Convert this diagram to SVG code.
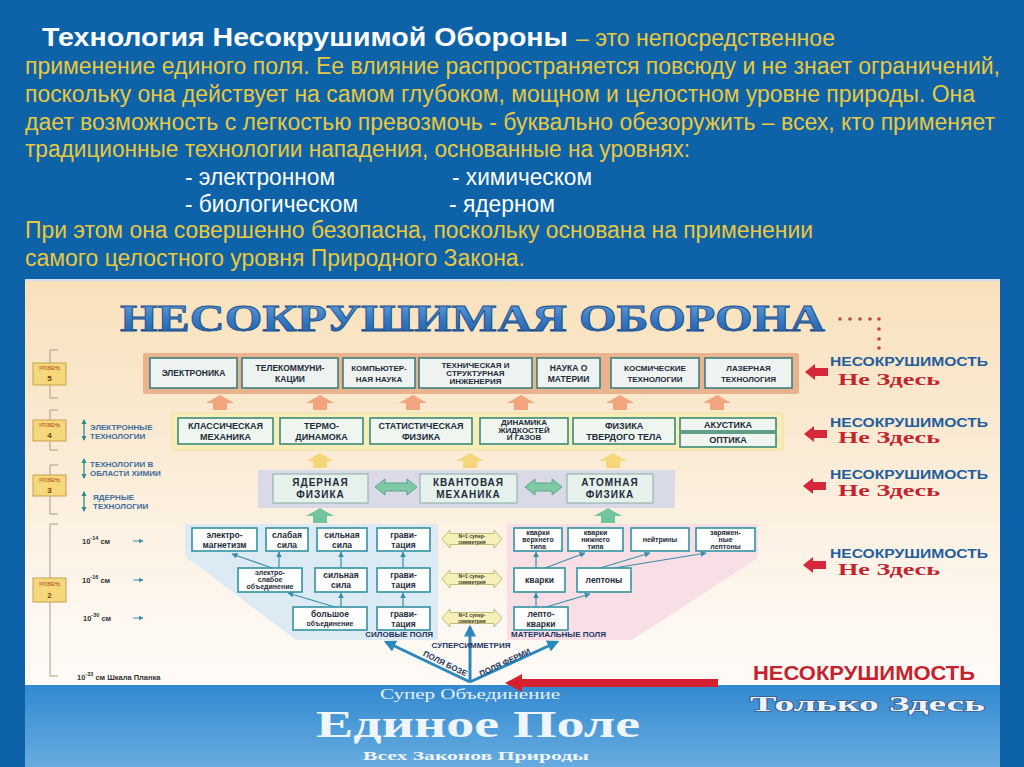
<svg xmlns="http://www.w3.org/2000/svg" width="1024" height="767" viewBox="0 0 1024 767">
<defs>
  <linearGradient id="cream" x1="0" y1="0" x2="0" y2="1">
    <stop offset="0" stop-color="#f8e1bc"/>
    <stop offset="0.45" stop-color="#fbecd7"/>
    <stop offset="0.85" stop-color="#fef8f2"/>
    <stop offset="1" stop-color="#fffaf6"/>
  </linearGradient>
  <linearGradient id="banner" x1="0" y1="0" x2="0" y2="1">
    <stop offset="0" stop-color="#3389cf"/>
    <stop offset="1" stop-color="#66ace0"/>
  </linearGradient>
  <linearGradient id="titleGrad" x1="0" y1="0" x2="0" y2="1">
    <stop offset="0" stop-color="#6aa8e0"/>
    <stop offset="0.5" stop-color="#3a7cc4"/>
    <stop offset="1" stop-color="#1c5aa4"/>
  </linearGradient>
  <path id="upArrow" d="M0,0 L14,8 L7,8 L7,15 L-7,15 L-7,8 L-14,8 Z"/>
  <path id="redArrow" d="M0,0 L10,-8 L10,-4 L23,-4 L23,4 L10,4 L10,8 Z"/>
  <path id="n1Arrow" d="M0,0 L8,-9 L8,-5.5 L52,-5.5 L52,-9 L60,0 L52,9 L52,5.5 L8,5.5 L8,9 Z"/>
  <marker id="tealHead" viewBox="0 0 10 10" refX="9" refY="5" markerWidth="5" markerHeight="5" orient="auto-start-reverse">
    <path d="M0,0 L10,5 L0,10 Z" fill="#3a8ea8"/>
  </marker>
  <marker id="fanHead" viewBox="0 0 10 10" refX="8" refY="5" markerWidth="4" markerHeight="4" orient="auto">
    <path d="M0,0 L10,5 L0,10 Z" fill="#2a88bd"/>
  </marker>
  <marker id="axisHead" viewBox="0 0 10 10" refX="8" refY="5" markerWidth="4" markerHeight="4" orient="auto-start-reverse">
    <path d="M0,0 L10,5 L0,10 Z" fill="#2f8c8c"/>
  </marker>
</defs>
<style>
  .yel{font-family:"Liberation Sans",Arial,sans-serif;font-size:23px;fill:#e9c83e}
  .wht{font-family:"Liberation Sans",Arial,sans-serif;font-size:23px;fill:#ffffff}
  .ttl{font-family:"Liberation Sans",Arial,sans-serif;font-size:26px;font-weight:bold;fill:#ffffff}
  .cont5{fill:#eab38f}
  .cont4{fill:#f6edb9;stroke:#efe0a0;stroke-width:1}
  .cont3{fill:#d9d9e7}
  .b5{fill:#eef3f1;stroke:#3c7f7d;stroke-width:1.6}
  .b4{fill:#eff6f0;stroke:#3d8a78;stroke-width:1.6}
  .b3{fill:#e6f1ec;stroke:#86aea6;stroke-width:1}
  .b2{fill:#ffffff;stroke:#3393a3;stroke-width:1.6}
  .t{font-family:"Liberation Sans",Arial,sans-serif;font-weight:bold;fill:#1e2c3a;text-anchor:middle}
  .t5{font-size:8.5px}
  .t5s{font-size:8px}
  .t4{font-size:9px}
  .t3{font-size:10px;letter-spacing:1px}
  .t2{font-size:8.5px}
  .t2s{font-size:7px}
  .n1t{font-family:"Liberation Sans",Arial,sans-serif;font-weight:bold;font-size:5px;fill:#3a3a2a;text-anchor:middle}
  .nes{font-family:"Liberation Sans",Arial,sans-serif;font-weight:bold;font-size:13px;fill:#1f5d9c}
  .nz{font-family:"Liberation Serif","Times New Roman",serif;font-weight:bold;font-size:16px;fill:#c2252f}
  .ax{font-family:"Liberation Sans",Arial,sans-serif;font-weight:bold;font-size:8px;fill:#3e6c9c}
  .sc{font-family:"Liberation Sans",Arial,sans-serif;font-weight:bold;font-size:7.5px;fill:#333333}
  .lvl{fill:#f6d87c;stroke:#c8a050;stroke-width:1}
  .lvlw{font-family:"Liberation Sans",Arial,sans-serif;font-size:4.5px;fill:#b0401c;text-anchor:middle}
  .lvln{font-family:"Liberation Sans",Arial,sans-serif;font-weight:bold;font-size:8px;fill:#7a3a10;text-anchor:middle}
  .con{stroke:#3a8ea8;stroke-width:1.2;fill:none}
  .fan{stroke:#2a88bd;stroke-width:3;fill:none}
  .fl{font-family:"Liberation Sans",Arial,sans-serif;font-weight:bold;font-size:8px;fill:#1d3560}
  .brk{stroke:#a89a88;stroke-width:1;fill:none}
</style>

<!-- background -->
<rect x="0" y="0" width="1024" height="767" fill="#0d62a8"/>
<rect x="25" y="279" width="975" height="2" fill="#cfe0ee"/>
<rect x="25" y="281" width="975" height="404" fill="url(#cream)"/>
<rect x="25" y="685" width="975" height="82" fill="url(#banner)"/>

<!-- top text -->
<g id="intro">
  <text x="42" y="46" class="ttl" textLength="526" lengthAdjust="spacingAndGlyphs">Технология Несокрушимой Обороны</text>
  <text x="576" y="46" class="yel" textLength="259" lengthAdjust="spacingAndGlyphs">– это непосредственное</text>
  <text x="25" y="74" class="yel" textLength="975" lengthAdjust="spacingAndGlyphs">применение единого поля. Ее влияние распространяется повсюду и не знает ограничений,</text>
  <text x="25" y="102" class="yel" textLength="950" lengthAdjust="spacingAndGlyphs">поскольку она действует на самом глубоком, мощном и целостном уровне природы. Она</text>
  <text x="25" y="130" class="yel" textLength="970" lengthAdjust="spacingAndGlyphs">дает возможность с легкостью превозмочь - буквально обезоружить – всех, кто применяет</text>
  <text x="25" y="157" class="yel" textLength="665" lengthAdjust="spacingAndGlyphs">традиционные технологии нападения, основанные на уровнях:</text>
  <text x="185" y="185" class="wht" textLength="150" lengthAdjust="spacingAndGlyphs">- электронном</text>
  <text x="452" y="185" class="wht" textLength="140" lengthAdjust="spacingAndGlyphs">- химическом</text>
  <text x="185" y="212" class="wht" textLength="173" lengthAdjust="spacingAndGlyphs">- биологическом</text>
  <text x="449" y="212" class="wht" textLength="106" lengthAdjust="spacingAndGlyphs">- ядерном</text>
  <text x="25" y="238" class="yel" textLength="788" lengthAdjust="spacingAndGlyphs">При этом она совершенно безопасна, поскольку основана на применении</text>
  <text x="25" y="266" class="yel" textLength="500" lengthAdjust="spacingAndGlyphs">самого целостного уровня Природного Закона.</text>
</g>

<!-- big title -->
<g id="title">
  <text x="120" y="331" font-family="'Liberation Serif','Times New Roman',serif" font-weight="bold" font-size="38" fill="url(#titleGrad)" stroke="#1a4d8a" stroke-width="0.8" textLength="705" lengthAdjust="spacingAndGlyphs">НЕСОКРУШИМАЯ ОБОРОНА</text>
  <g fill="#c0443e">
    <circle cx="840" cy="319" r="1.8"/><circle cx="850" cy="319" r="1.8"/><circle cx="860" cy="319" r="1.8"/><circle cx="870" cy="319" r="1.8"/><circle cx="879" cy="319" r="1.8"/>
    <circle cx="879" cy="329" r="1.8"/><circle cx="879" cy="339" r="1.8"/><circle cx="879" cy="348" r="1.8"/>
  </g>
</g>

<!-- left axis -->
<g id="axis">
  <path class="brk" d="M58,350 H50 V398 H58"/>
  <path class="brk" d="M58,410 H50 V450 H58"/>
  <path class="brk" d="M58,465 H50 V514 H58"/>
  <path class="brk" d="M58,524 H50 V676 H58"/>
  <g id="lvl5"><rect class="lvl" x="33" y="363" width="33" height="22"/><text class="lvlw" x="49.5" y="370">УРОВЕНЬ</text><text class="lvln" x="49.5" y="381">5</text></g>
  <g id="lvl4"><rect class="lvl" x="33" y="420" width="33" height="21"/><text class="lvlw" x="49.5" y="427">УРОВЕНЬ</text><text class="lvln" x="49.5" y="438">4</text></g>
  <g id="lvl3"><rect class="lvl" x="33" y="475" width="33" height="21"/><text class="lvlw" x="49.5" y="482">УРОВЕНЬ</text><text class="lvln" x="49.5" y="493">3</text></g>
  <g id="lvl2"><rect class="lvl" x="33" y="578" width="33" height="24"/><text class="lvlw" x="49.5" y="586">УРОВЕНЬ</text><text class="lvln" x="49.5" y="598">2</text></g>
  <line x1="84" y1="420" x2="84" y2="440" stroke="#2f8c8c" stroke-width="1.3" marker-start="url(#axisHead)" marker-end="url(#axisHead)"/>
  <text class="ax" x="90" y="430">ЭЛЕКТРОННЫЕ</text><text class="ax" x="90" y="439">ТЕХНОЛОГИИ</text>
  <line x1="84" y1="459" x2="84" y2="478" stroke="#2f8c8c" stroke-width="1.3" marker-start="url(#axisHead)" marker-end="url(#axisHead)"/>
  <text class="ax" x="90" y="467">ТЕХНОЛОГИИ В</text><text class="ax" x="90" y="476">ОБЛАСТИ ХИМИИ</text>
  <line x1="84" y1="492" x2="84" y2="511" stroke="#2f8c8c" stroke-width="1.3" marker-start="url(#axisHead)" marker-end="url(#axisHead)"/>
  <text class="ax" x="93" y="500">ЯДЕРНЫЕ</text><text class="ax" x="93" y="509">ТЕХНОЛОГИИ</text>
  <text class="sc" x="82" y="544">10<tspan font-size="5.5" dy="-4">-14</tspan><tspan dy="4"> см</tspan></text>
  <text class="sc" x="82" y="583">10<tspan font-size="5.5" dy="-4">-16</tspan><tspan dy="4"> см</tspan></text>
  <text class="sc" x="83" y="621">10<tspan font-size="5.5" dy="-4">-30</tspan><tspan dy="4"> см</tspan></text>
  <text class="sc" x="77" y="680">10<tspan font-size="5.5" dy="-4">-33</tspan><tspan dy="4"> см Шкала Планка</tspan></text>
  <line x1="133" y1="541" x2="143" y2="541" stroke="#3a8ea8" stroke-width="1" marker-end="url(#tealHead)"/>
  <line x1="133" y1="580" x2="143" y2="580" stroke="#3a8ea8" stroke-width="1" marker-end="url(#tealHead)"/>
  <line x1="133" y1="618" x2="143" y2="618" stroke="#3a8ea8" stroke-width="1" marker-end="url(#tealHead)"/>
</g>

<!-- level 5 -->
<rect class="cont5" x="143" y="353" width="656" height="41" rx="2"/>
<g id="n-electronics"><rect class="b5" x="150" y="358" width="87" height="30"/><text class="t t5" x="193.5" y="376">ЭЛЕКТРОНИКА</text></g>
<g id="n-telecom"><rect class="b5" x="242" y="358" width="96" height="30"/><text class="t t5" x="290" y="371">ТЕЛЕКОММУНИ-</text><text class="t t5" x="290" y="382">КАЦИИ</text></g>
<g id="n-computer"><rect class="b5" x="343" y="358" width="72" height="30"/><text class="t t5s" x="379" y="371">КОМПЬЮТЕР-</text><text class="t t5s" x="379" y="382">НАЯ НАУКА</text></g>
<g id="n-engineering"><rect class="b5" x="419" y="358" width="113" height="30"/><text class="t t5s" x="475.5" y="368">ТЕХНИЧЕСКАЯ И</text><text class="t t5s" x="475.5" y="376">СТРУКТУРНАЯ</text><text class="t t5s" x="475.5" y="384">ИНЖЕНЕРИЯ</text></g>
<g id="n-matter"><rect class="b5" x="537" y="358" width="63" height="30"/><text class="t t5" x="568.5" y="371">НАУКА О</text><text class="t t5" x="568.5" y="382">МАТЕРИИ</text></g>
<g id="n-space"><rect class="b5" x="611" y="358" width="88" height="30"/><text class="t t5s" x="655" y="371">КОСМИЧЕСКИЕ</text><text class="t t5s" x="655" y="382">ТЕХНОЛОГИИ</text></g>
<g id="n-laser"><rect class="b5" x="705" y="358" width="87" height="30"/><text class="t t5s" x="748.5" y="371">ЛАЗЕРНАЯ</text><text class="t t5s" x="748.5" y="382">ТЕХНОЛОГИЯ</text></g>

<!-- level 4 -->
<rect class="cont4" x="172" y="413" width="611" height="37" rx="2"/>
<g id="n-classmech"><rect class="b4" x="178" y="418" width="95" height="26"/><text class="t t4" x="225.5" y="429">КЛАССИЧЕСКАЯ</text><text class="t t4" x="225.5" y="440">МЕХАНИКА</text></g>
<g id="n-thermo"><rect class="b4" x="280" y="418" width="83" height="26"/><text class="t t4" x="321.5" y="429">ТЕРМО-</text><text class="t t4" x="321.5" y="440">ДИНАМОКА</text></g>
<g id="n-stat"><rect class="b4" x="370" y="418" width="102" height="26"/><text class="t t4" x="421" y="429">СТАТИСТИЧЕСКАЯ</text><text class="t t4" x="421" y="440">ФИЗИКА</text></g>
<g id="n-fluid"><rect class="b4" x="480" y="418" width="88" height="26"/><text class="t t5s" x="524" y="425">ДИНАМИКА</text><text class="t t5s" x="524" y="432.5">ЖИДКОСТЕЙ</text><text class="t t5s" x="524" y="440">И ГАЗОВ</text></g>
<g id="n-solid"><rect class="b4" x="573" y="418" width="102" height="26"/><text class="t t4" x="624" y="429">ФИЗИКА</text><text class="t t4" x="624" y="440">ТВЕРДОГО ТЕЛА</text></g>
<g id="n-acoustics"><rect class="b4" x="680" y="418" width="96" height="13"/><text class="t t4" x="728" y="428">АКУСТИКА</text></g>
<g id="n-optics"><rect class="b4" x="680" y="433" width="96" height="14"/><text class="t t4" x="728" y="443">ОПТИКА</text></g>

<!-- level 3 -->
<rect class="cont3" x="258" y="470" width="417" height="38"/>
<g id="n-nuclear"><rect class="b3" x="273" y="474" width="95" height="29"/><text class="t t3" x="320.5" y="486">ЯДЕРНАЯ</text><text class="t t3" x="320.5" y="498">ФИЗИКА</text></g>
<g id="n-quantum"><rect class="b3" x="420" y="474" width="97" height="29"/><text class="t t3" x="468.5" y="486">КВАНТОВАЯ</text><text class="t t3" x="468.5" y="498">МЕХАНИКА</text></g>
<g id="n-atomic"><rect class="b3" x="567" y="474" width="86" height="29"/><text class="t t3" x="610" y="486">АТОМНАЯ</text><text class="t t3" x="610" y="498">ФИЗИКА</text></g>

<!-- level 2 zones -->
<polygon points="185,524 438,524 438,640 296,640 185,556" fill="#dcebf3"/>
<polygon points="507,524 758,524 758,558 632,640 507,640" fill="#f8dfe6"/>

<g id="n-em"><rect class="b2" x="192" y="528" width="65" height="23"/><text class="t t2" x="224.5" y="538">электро-</text><text class="t t2" x="224.5" y="547.5">магнетизм</text></g>
<g id="n-weak"><rect class="b2" x="266" y="528" width="42" height="23"/><text class="t t2" x="287" y="538">слабая</text><text class="t t2" x="287" y="547.5">сила</text></g>
<g id="n-strong1"><rect class="b2" x="317" y="528" width="50" height="23"/><text class="t t2" x="342" y="538">сильная</text><text class="t t2" x="342" y="547.5">сила</text></g>
<g id="n-grav1"><rect class="b2" x="377" y="528" width="53" height="23"/><text class="t t2" x="403.5" y="538">грави-</text><text class="t t2" x="403.5" y="547.5">тация</text></g>
<g id="n-ew"><rect class="b2" x="238" y="568" width="64" height="24"/><text class="t t2s" x="270" y="575">электро-</text><text class="t t2s" x="270" y="582">слабое</text><text class="t t2s" x="270" y="589">объединение</text></g>
<g id="n-strong2"><rect class="b2" x="315" y="568" width="52" height="24"/><text class="t t2" x="341" y="578">сильная</text><text class="t t2" x="341" y="588">сила</text></g>
<g id="n-grav2"><rect class="b2" x="377" y="568" width="53" height="24"/><text class="t t2" x="403.5" y="578">грави-</text><text class="t t2" x="403.5" y="588">тация</text></g>
<g id="n-gut"><rect class="b2" x="293" y="607" width="74" height="23"/><text class="t t2" x="330" y="617">большое</text><text class="t t2s" x="330" y="626">объединение</text></g>
<g id="n-grav3"><rect class="b2" x="377" y="607" width="53" height="23"/><text class="t t2" x="403.5" y="617">грави-</text><text class="t t2" x="403.5" y="626.5">тация</text></g>
<text class="fl" x="433" y="637" text-anchor="end">СИЛОВЫЕ ПОЛЯ</text>

<g id="n-upq"><rect class="b2" x="514" y="528" width="48" height="23"/><text class="t t2s" x="538" y="535">кварки</text><text class="t t2s" x="538" y="542">верхнего</text><text class="t t2s" x="538" y="549">типа</text></g>
<g id="n-downq"><rect class="b2" x="568" y="528" width="55" height="23"/><text class="t t2s" x="595.5" y="535">кварки</text><text class="t t2s" x="595.5" y="542">нижнего</text><text class="t t2s" x="595.5" y="549">типа</text></g>
<g id="n-neutrino"><rect class="b2" x="631" y="528" width="58" height="23"/><text class="t t2s" x="660" y="542">нейтрины</text></g>
<g id="n-chlep"><rect class="b2" x="696" y="528" width="59" height="23"/><text class="t t2s" x="725.5" y="535">заряжен-</text><text class="t t2s" x="725.5" y="542">ные</text><text class="t t2s" x="725.5" y="549">лептоны</text></g>
<g id="n-quarks"><rect class="b2" x="514" y="568" width="51" height="24"/><text class="t t2" x="539.5" y="583">кварки</text></g>
<g id="n-leptons"><rect class="b2" x="577" y="568" width="54" height="24"/><text class="t t2" x="604" y="583">лептоны</text></g>
<g id="n-lq"><rect class="b2" x="514" y="607" width="54" height="23"/><text class="t t2" x="541" y="617">лепто-</text><text class="t t2" x="541" y="626.5">кварки</text></g>
<text class="fl" x="511" y="637">МАТЕРИАЛЬНЫЕ ПОЛЯ</text>

<g id="n-susy">
  <use href="#n1Arrow" x="442" y="539" fill="#f5efb8" stroke="#b5ad62" stroke-width="0.8"/>
  <text class="n1t" x="472" y="538">N=1 супер-</text><text class="n1t" x="472" y="544">симметрия</text>
  <use href="#n1Arrow" x="442" y="579" fill="#f5efb8" stroke="#b5ad62" stroke-width="0.8"/>
  <text class="n1t" x="472" y="578">N=1 супер-</text><text class="n1t" x="472" y="584">симметрия</text>
  <use href="#n1Arrow" x="442" y="618" fill="#f5efb8" stroke="#b5ad62" stroke-width="0.8"/>
  <text class="n1t" x="472" y="617">N=1 супер-</text><text class="n1t" x="472" y="623">симметрия</text>
</g>

<!-- connectors -->
<g id="connectors">
  <use href="#upArrow" x="220" y="395" fill="#f2a47c"/>
  <use href="#upArrow" x="320" y="395" fill="#f2a47c"/>
  <use href="#upArrow" x="413" y="395" fill="#f2a47c"/>
  <use href="#upArrow" x="521" y="395" fill="#f2a47c"/>
  <use href="#upArrow" x="620" y="395" fill="#f2a47c"/>
  <use href="#upArrow" x="717" y="395" fill="#f2a47c"/>
  <use href="#upArrow" x="320" y="453" fill="#f6d67a"/>
  <use href="#upArrow" x="470" y="453" fill="#f6d67a"/>
  <use href="#upArrow" x="613" y="453" fill="#f6d67a"/>
  <use href="#upArrow" x="320" y="508" fill="#72c69e"/>
  <use href="#upArrow" x="608" y="508" fill="#72c69e"/>
  <path d="M375,487 L385,479 L385,483 L407,483 L407,479 L417,487 L407,495 L407,491 L385,491 L385,495 Z" fill="#7fcaa6" stroke="#4a9a7a" stroke-width="0.8"/>
  <path d="M525,487 L535,479 L535,483 L552,483 L552,479 L562,487 L552,495 L552,491 L535,491 L535,495 Z" fill="#7fcaa6" stroke="#4a9a7a" stroke-width="0.8"/>
  <line class="con" x1="341" y1="607" x2="341" y2="593" marker-end="url(#tealHead)"/>
  <line class="con" x1="335" y1="607" x2="288" y2="593" marker-end="url(#tealHead)"/>
  <line class="con" x1="403" y1="607" x2="403" y2="593" marker-end="url(#tealHead)"/>
  <line class="con" x1="279" y1="568" x2="279" y2="552" marker-end="url(#tealHead)"/>
  <line class="con" x1="272" y1="568" x2="232" y2="554" marker-end="url(#tealHead)"/>
  <line class="con" x1="341" y1="568" x2="341" y2="552" marker-end="url(#tealHead)"/>
  <line class="con" x1="403" y1="568" x2="403" y2="552" marker-end="url(#tealHead)"/>
  <line class="con" x1="536" y1="607" x2="536" y2="593" marker-end="url(#tealHead)"/>
  <line class="con" x1="546" y1="607" x2="590" y2="594" marker-end="url(#tealHead)"/>
  <line class="con" x1="536" y1="568" x2="536" y2="552" marker-end="url(#tealHead)"/>
  <line class="con" x1="545" y1="568" x2="585" y2="553" marker-end="url(#tealHead)"/>
  <line class="con" x1="600" y1="568" x2="650" y2="553" marker-end="url(#tealHead)"/>
  <line class="con" x1="614" y1="568" x2="706" y2="553" marker-end="url(#tealHead)"/>
  <line class="fan" x1="470" y1="682" x2="386" y2="642" marker-end="url(#fanHead)"/>
  <line class="fan" x1="470" y1="682" x2="470" y2="627" marker-end="url(#fanHead)"/>
  <line class="fan" x1="470" y1="682" x2="557" y2="642" marker-end="url(#fanHead)"/>
  <text class="fl" x="471" y="648" text-anchor="middle">СУПЕРСИММЕТРИЯ</text>
  <text class="fl" font-size="7" x="0" y="0" text-anchor="middle" transform="translate(444,666) rotate(26)">ПОЛЯ БОЗЕ</text>
  <text class="fl" font-size="7" x="0" y="0" text-anchor="middle" transform="translate(506,665) rotate(-25)">ПОЛЯ ФЕРМИ</text>
</g>

<!-- right labels -->
<g id="r5"><use href="#redArrow" x="805" y="372" fill="#d6283a"/><text class="nes" x="830" y="366" textLength="158" lengthAdjust="spacingAndGlyphs">НЕСОКРУШИМОСТЬ</text><text class="nz" x="838" y="385" textLength="102" lengthAdjust="spacingAndGlyphs">Не Здесь</text></g>
<g id="r4"><use href="#redArrow" x="804" y="434" fill="#d6283a"/><text class="nes" x="830" y="427" textLength="158" lengthAdjust="spacingAndGlyphs">НЕСОКРУШИМОСТЬ</text><text class="nz" x="838" y="443" textLength="102" lengthAdjust="spacingAndGlyphs">Не Здесь</text></g>
<g id="r3"><use href="#redArrow" x="803" y="486" fill="#d6283a"/><text class="nes" x="830" y="479" textLength="158" lengthAdjust="spacingAndGlyphs">НЕСОКРУШИМОСТЬ</text><text class="nz" x="838" y="496" textLength="102" lengthAdjust="spacingAndGlyphs">Не Здесь</text></g>
<g id="r2"><use href="#redArrow" x="803" y="565" fill="#d6283a"/><text class="nes" x="830" y="558" textLength="158" lengthAdjust="spacingAndGlyphs">НЕСОКРУШИМОСТЬ</text><text class="nz" x="838" y="575" textLength="102" lengthAdjust="spacingAndGlyphs">Не Здесь</text></g>

<g id="r1">
  <path d="M505,683 L522,674 L522,679 L718,679 L718,687 L522,687 L522,692 Z" fill="#d4202f"/>
  <text x="753" y="680" font-family="'Liberation Sans',Arial,sans-serif" font-weight="bold" font-size="20" fill="#c4232e" textLength="222" lengthAdjust="spacingAndGlyphs">НЕСОКРУШИМОСТЬ</text>
  <text x="750" y="711" font-family="'Liberation Serif','Times New Roman',serif" font-weight="bold" font-size="21" fill="#eef3fb" stroke="#3a5c8e" stroke-width="1.3" paint-order="stroke" textLength="235" lengthAdjust="spacingAndGlyphs">Только Здесь</text>
</g>

<!-- bottom banner -->
<g id="unified">
  <text x="470" y="699" text-anchor="middle" font-family="'Liberation Serif','Times New Roman',serif" font-size="14" fill="#e6f0fa" textLength="180" lengthAdjust="spacingAndGlyphs">Супер Объединение</text>
  <text x="478" y="737" text-anchor="middle" font-family="'Liberation Serif','Times New Roman',serif" font-weight="bold" font-size="37" fill="#eef5fc" textLength="324" lengthAdjust="spacingAndGlyphs">Единое Поле</text>
  <text x="476" y="760" text-anchor="middle" font-family="'Liberation Serif','Times New Roman',serif" font-weight="bold" font-size="13" fill="#eef5fc" textLength="226" lengthAdjust="spacingAndGlyphs">Всех Законов Природы</text>
</g>
</svg>
